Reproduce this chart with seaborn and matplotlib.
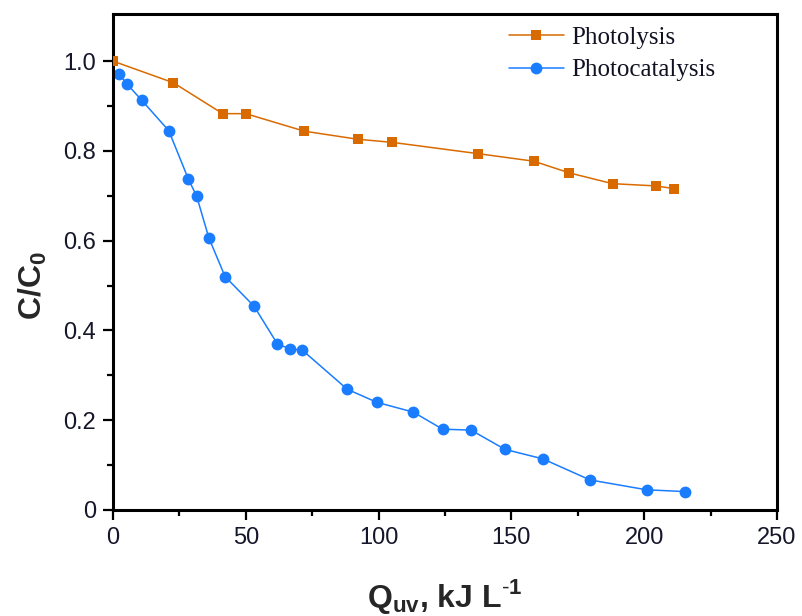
import numpy as np
import pandas as pd
import matplotlib
matplotlib.use("Agg")
import matplotlib.pyplot as plt
from matplotlib.ticker import FixedLocator, FixedFormatter
import seaborn as sns

# UV dose (kJ/L) and normalised concentration for each treatment
photolysis_q = [0.0, 22.7, 41.3, 50.0, 72.0, 92.1, 105.2, 137.3, 158.5, 171.8, 188.1, 204.4, 211.2]
photolysis_c = [1.000, 0.952, 0.883, 0.883, 0.844, 0.826, 0.819, 0.794, 0.777, 0.751, 0.727, 0.722, 0.716]

photocat_q = [2.4, 5.1, 10.8, 21.0, 28.4, 31.5, 36.1, 42.2, 53.1, 61.9, 66.6, 71.3, 88.2,
              99.3, 113.1, 124.1, 134.8, 147.6, 161.8, 179.6, 200.9, 215.4]
photocat_c = [0.971, 0.950, 0.913, 0.845, 0.737, 0.699, 0.606, 0.520, 0.454, 0.370, 0.359, 0.356, 0.269,
              0.240, 0.218, 0.180, 0.178, 0.135, 0.114, 0.067, 0.045, 0.041]

series_names = ["Photolysis", "Photocatalysis"]
series_colors = ["#D96A00", "#1A7DFF"]

x_major = [0, 50, 100, 150, 200, 250]
x_labels = ["0", "50", "100", "150", "200", "250"]
y_major = [0, 0.2, 0.4, 0.6, 0.8, 1.0]
y_labels = ["0", "0.2", "0.4", "0.6", "0.8", "1.0"]

sns.set_theme(style="white")
plt.rcParams["font.family"] = ["Liberation Sans", "DejaVu Sans"]
plt.rcParams["mathtext.fontset"] = "custom"
plt.rcParams["mathtext.rm"] = "Liberation Sans"
plt.rcParams["mathtext.bf"] = "Liberation Sans:bold"

df_a = pd.DataFrame({"q": photolysis_q, "c": photolysis_c})
df_b = pd.DataFrame({"q": photocat_q, "c": photocat_c})

fig = plt.figure(figsize=(8.02, 6.16), dpi=100)
ax = fig.add_axes([113 / 802, 106 / 616, 664 / 802, 496 / 616])

sns.lineplot(data=df_a, x="q", y="c", ax=ax, color=series_colors[0], marker="s",
             markersize=7.5, markeredgewidth=0, linewidth=1.1, label=series_names[0],
             sort=False, zorder=3)
sns.lineplot(data=df_b, x="q", y="c", ax=ax, color=series_colors[1], marker="o",
             markersize=8.5, markeredgewidth=0, linewidth=1.1, label=series_names[1],
             sort=False, zorder=2)

ax.set_xlim(0, 250)
ax.set_ylim(0, 1.105)

ax.xaxis.set_major_locator(FixedLocator(x_major))
ax.xaxis.set_major_formatter(FixedFormatter(x_labels))
ax.yaxis.set_major_locator(FixedLocator(y_major))
ax.yaxis.set_major_formatter(FixedFormatter(y_labels))
ax.xaxis.set_minor_locator(FixedLocator([25, 75, 125, 175, 225]))
ax.yaxis.set_minor_locator(FixedLocator([0.1, 0.3, 0.5, 0.7, 0.9]))

tick_color = "#16162a"
ax.tick_params(axis="both", which="major", direction="out", length=7, width=1.6,
               color="black", labelsize=17, labelcolor=tick_color, pad=5,
               bottom=True, left=True, top=False, right=False)
ax.tick_params(axis="both", which="minor", direction="out", length=4.5, width=1.6,
               color="black", bottom=True, left=True, top=False, right=False)

for side in ["left", "right", "top", "bottom"]:
    ax.spines[side].set_visible(True)
    ax.spines[side].set_color("black")
    ax.spines[side].set_linewidth(2.2)

ax.set_xlabel(r"$\mathbf{Q_{uv}}$, kJ L$^{\mathbf{\text{-}1}}$", fontsize=23, fontweight="bold")
ax.set_ylabel(r"C/C$_{\mathbf{0}}$", fontsize=23, fontweight="bold")
ax.xaxis.set_label_coords(0.5, -0.135)
ax.yaxis.set_label_coords(-0.097, 0.452)

leg = ax.legend(loc="upper left", bbox_to_anchor=(0.596, 0.975), frameon=False,
                prop={"family": "Liberation Serif", "size": 18},
                handlelength=2.2, handletextpad=0.3, labelspacing=0.4,
                borderpad=0, borderaxespad=0)
for txt in leg.get_texts():
    txt.set_color("#111122")

fig.savefig("out.png", dpi=100)
